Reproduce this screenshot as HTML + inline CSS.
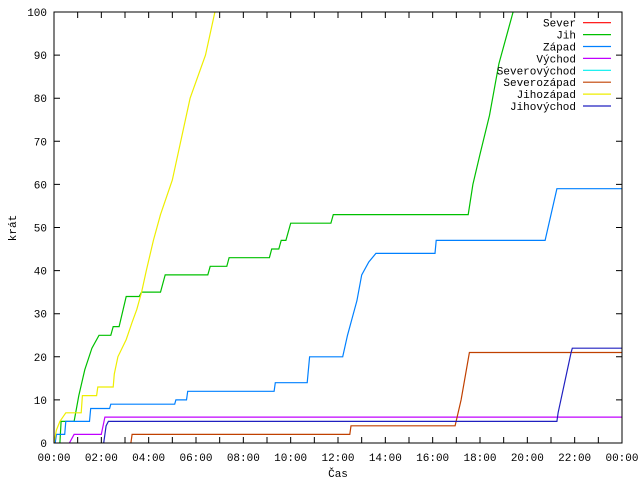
<!DOCTYPE html>
<html><head><meta charset="utf-8"><style>
html,body{margin:0;padding:0;background:#fff;}
svg{display:block;font-family:"Liberation Mono","DejaVu Sans Mono",monospace;font-size:11px;}
</style></head><body>
<svg id="chart" width="640" height="480" viewBox="0 0 640 480">
<g id="grid"></g>
<g id="series"></g>
<rect x="54" y="12" width="568" height="431" fill="none" stroke="#000" stroke-width="1"/>
<text x="338" y="477" text-anchor="middle">Čas</text>
<text x="16" y="228" text-anchor="middle" transform="rotate(-90 16 228)">krát</text>
<g id="legend"></g>
</svg>
<script>
const seriesNames = ["Sever","Jih","Západ","Východ","Severovýchod","Severozápad","Jihozápad","Jihovýchod"];
const seriesColors = ["#ff0000","#00c000","#0080ff","#c000ff","#00eeee","#c04000","#eeee00","#2020c0"];
const yTicks = [0,10,20,30,40,50,60,70,80,90,100];
const xTickLabels = ["00:00","02:00","04:00","06:00","08:00","10:00","12:00","14:00","16:00","18:00","20:00","22:00","00:00"];
const sever = [];
const jih = [[0.25,0],[0.3,5],[0.85,5],[1.05,11],[1.3,17],[1.6,22],[1.9,25],[2.4,25],[2.5,27],[2.75,27],[3.05,34],[3.6,34],[3.7,35],[4.5,35],[4.7,39],[6.5,39],[6.6,41],[7.3,41],[7.4,43],[9.1,43],[9.2,45],[9.5,45],[9.6,47],[9.8,47],[9.9,49],[10.0,51],[11.7,51],[11.8,53],[17.5,53],[17.7,60],[18.0,67],[18.4,76],[18.8,88],[19.4,100]];
const zapad = [[0.05,0],[0.1,2],[0.45,2],[0.5,5],[1.5,5],[1.55,8],[2.35,8],[2.4,9],[5.1,9],[5.15,10],[5.6,10],[5.65,12],[9.3,12],[9.35,14],[10.7,14],[10.8,20],[12.2,20],[12.4,25],[12.6,29],[12.8,33],[13.0,39],[13.3,42],[13.6,44],[16.1,44],[16.15,47],[20.75,47],[21.25,59],[24,59]];
const vychod = [[0.65,0],[0.85,2],[2.0,2],[2.15,6],[24,6]];
const severovychod = [];
const severozapad = [[3.25,0],[3.3,2],[12.5,2],[12.55,4],[16.95,4],[17.2,10],[17.55,21],[24,21]];
const jihozapad = [[0,0],[0.1,3],[0.25,5],[0.5,7],[1.15,7],[1.2,11],[1.8,11],[1.85,13],[2.5,13],[2.55,16],[2.7,20],[3.05,24],[3.3,28],[3.5,31],[3.7,35],[3.9,40],[4.2,47],[4.5,53],[5.0,61],[5.75,80],[6.4,90],[6.8,100]];
const jihovychod = [[2.1,0],[2.2,4],[2.3,5],[21.25,5],[21.3,7],[21.85,21],[21.9,22],[24,22]];
const allSeries = [sever,jih,zapad,vychod,severovychod,severozapad,jihozapad,jihovychod];

const NS="http://www.w3.org/2000/svg";
const X0=54,X1=622,Y0=443,Y1=12;
function xs(h){return X0+h/24*(X1-X0);}
function ys(v){return Y0-v/100*(Y0-Y1);}
const grid=document.getElementById('grid');
yTicks.forEach(v=>{
  const y=ys(v);
  const t=document.createElementNS(NS,'path');
  t.setAttribute('d',`M${X0} ${y}h6M${X1} ${y}h-6`);
  t.setAttribute('stroke','#000');
  
  
  grid.appendChild(t);
  const l=document.createElementNS(NS,'text');
  l.setAttribute('x',47);l.setAttribute('y',y+4);l.setAttribute('text-anchor','end');
  l.textContent=v;
  
  
  grid.appendChild(l);
});
for(let h=0;h<=24;h++){
  const x=xs(h);
  const t=document.createElementNS(NS,'path');
  t.setAttribute('d',`M${x} ${Y0}v-6M${x} ${Y1}v6`);
  t.setAttribute('stroke','#000');
  
  
  grid.appendChild(t);
}
xTickLabels.forEach((s,i)=>{
  const l=document.createElementNS(NS,'text');
  l.setAttribute('x',xs(i*2));l.setAttribute('y',461);l.setAttribute('text-anchor','middle');
  l.textContent=s;
  
  
  grid.appendChild(l);
});
const sg=document.getElementById('series');
const clip=document.createElementNS(NS,'clipPath');clip.id='pc';
const cr=document.createElementNS(NS,'rect');cr.setAttribute('x',X0);cr.setAttribute('y',Y1);cr.setAttribute('width',X1-X0);cr.setAttribute('height',Y0-Y1);
clip.appendChild(cr);sg.appendChild(clip);
allSeries.forEach((d,i)=>{
  if(!d.length)return;
  const p=document.createElementNS(NS,'polyline');
  p.setAttribute('points',d.map(q=>xs(q[0]).toFixed(1)+','+ys(q[1]).toFixed(1)).join(' '));
  p.setAttribute('fill','none');p.setAttribute('stroke',seriesColors[i]);p.setAttribute('stroke-width','1.2');
  p.setAttribute('clip-path','url(#pc)');
  
  
  sg.appendChild(p);
});
const lg=document.getElementById('legend');
seriesNames.forEach((n,i)=>{
  const y=22.7+i*11.9;
  const t=document.createElementNS(NS,'text');
  t.setAttribute('x',576);t.setAttribute('y',y+4);t.setAttribute('text-anchor','end');
  t.textContent=n;
  
  
  lg.appendChild(t);
  const l=document.createElementNS(NS,'line');
  l.setAttribute('x1',583);l.setAttribute('x2',611);l.setAttribute('y1',y);l.setAttribute('y2',y);
  l.setAttribute('stroke',seriesColors[i]);l.setAttribute('stroke-width','1.2');
  
  
  lg.appendChild(l);
});
</script>
</body></html>
